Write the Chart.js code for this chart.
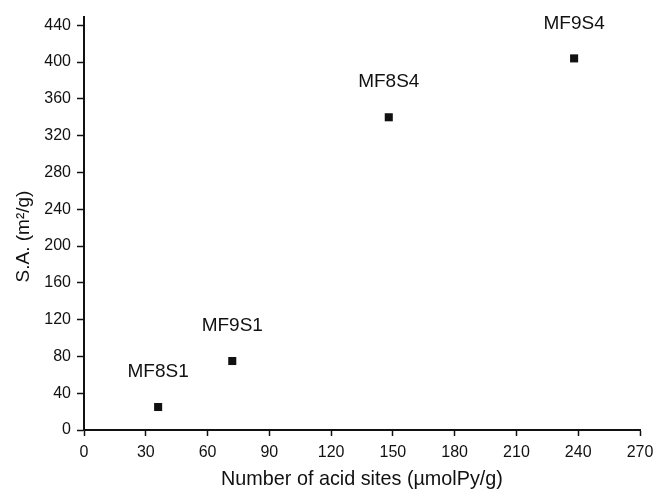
<!DOCTYPE html>
<html>
<head>
<meta charset="utf-8">
<script src="https://cdn.jsdelivr.net/npm/chart.js@4/dist/chart.umd.min.js"></script>
<style>
  html, body { margin: 0; padding: 0; background: #fff; }
  #wrap { width: 654px; height: 492px; }
</style>
</head>
<body>
<div id="wrap"><canvas id="canvas"></canvas></div>
<script>
// samples: acid sites vs surface area
var sampleNames = ['MF8S1', 'MF9S1', 'MF8S4', 'MF9S4'];
var acidSites = [36, 72, 148, 238];
var surfaceArea = [25, 75, 340, 404];

var xTicks = [0, 30, 60, 90, 120, 150, 180, 210, 240, 270];
var yTicks = [0, 40, 80, 120, 160, 200, 240, 280, 320, 360, 400, 440];

var FONT = "'Liberation Sans', Arial, sans-serif";
var INK = '#111';

// names written above each marker
var pointNames = {
	id: 'pointNames',
	afterDatasetsDraw: function(chart, args, opts) {
		var ctx = chart.ctx;
		var meta = chart.getDatasetMeta(0);
		ctx.save();
		ctx.font = '19px ' + FONT;
		ctx.fillStyle = INK;
		ctx.textAlign = 'center';
		ctx.textBaseline = 'middle';
		meta.data.forEach(function(pt, i) {
			ctx.fillText(sampleNames[i], pt.x, pt.y - opts.lift);
		});
		ctx.restore();
	}
};

// y axis title, set a little below the middle of the axis
var yTitle = {
	id: 'yTitle',
	afterDraw: function(chart, args, opts) {
		var ctx = chart.ctx;
		var area = chart.chartArea;
		ctx.save();
		ctx.translate(opts.x, (area.top + area.bottom) / 2 + opts.shift);
		ctx.rotate(-Math.PI / 2);
		ctx.font = '19px ' + FONT;
		ctx.fillStyle = INK;
		ctx.textAlign = 'center';
		ctx.textBaseline = 'middle';
		ctx.fillText(opts.text, 0, 0);
		ctx.restore();
	}
};

var points = acidSites.map(function(x, i) { return {x: x, y: surfaceArea[i]}; });

function axisCommon(len, pad) {
	return {
		border: { display: true, color: INK, width: 2 },
		grid: { display: true, drawOnChartArea: false, drawTicks: true, tickLength: len, tickWidth: 1.5, tickColor: INK },
		ticks: { color: INK, font: { family: FONT, size: 16 }, padding: pad, maxRotation: 0, autoSkip: false }
	};
}

var xAxis = axisCommon(6, 7);
xAxis.type = 'linear';
xAxis.min = 0;
xAxis.max = 270;
xAxis.afterBuildTicks = function(scale) { scale.ticks = xTicks.map(function(v) { return {value: v}; }); };
xAxis.afterFit = function(scale) {
	scale.height = 62;
	scale.paddingLeft = 0;
	scale.paddingRight = 14;
};
xAxis.title = { display: true, text: 'Number of acid sites (\u00b5molPy/g)', color: INK, font: { family: FONT, size: 19.8 }, padding: { top: 0, bottom: 1 } };

var yAxis = axisCommon(7, 6);
yAxis.type = 'linear';
yAxis.min = 0;
yAxis.max = 449;
yAxis.afterBuildTicks = function(scale) { scale.ticks = yTicks.map(function(v) { return {value: v}; }); };
yAxis.afterFit = function(scale) { scale.width = 84; };

new Chart(document.getElementById('canvas'), {
	type: 'scatter',
	data: {
		datasets: [{
			label: 'S.A.',
			data: points,
			pointStyle: 'rect',
			pointRadius: 5.7,
			pointHoverRadius: 5.7,
			backgroundColor: INK,
			borderColor: INK,
			borderWidth: 0
		}]
	},
	options: {
		responsive: true,
		maintainAspectRatio: false,
		animation: false,
		layout: { padding: { top: 17, right: 0, left: 0, bottom: 0 } },
		plugins: {
			legend: { display: false },
			tooltip: { enabled: false },
			pointNames: { lift: 35 },
			yTitle: { text: 'S.A. (m\u00b2/g)', x: 24, shift: 13 }
		},
		scales: { x: xAxis, y: yAxis }
	},
	plugins: [pointNames, yTitle]
});
</script>
</body>
</html>
